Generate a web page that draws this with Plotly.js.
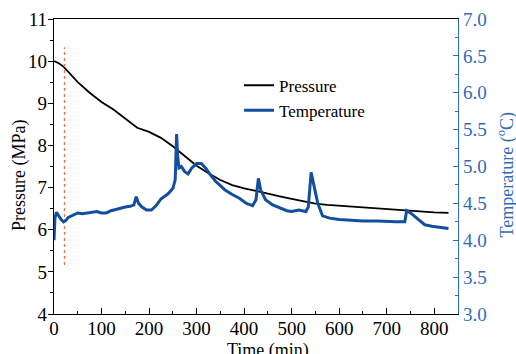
<!DOCTYPE html>
<html>
<head>
<meta charset="utf-8">
<script src="https://cdn.plot.ly/plotly-3.0.1.min.js"></script>
<style>html,body{margin:0;padding:0;background:#fff;}#chart{width:516px;height:354px;}</style>
</head>
<body>
<div id="chart"></div>
<script>
const pressureTime = [0,10,20,30,50,75,100,125,150,175,200,225,250,275,300,325,350,375,400,425,450,475,500,525,550,575,600,650,700,750,800,830];
const pressureMPa  = [10.0,9.95,9.87,9.75,9.5,9.25,9.03,8.85,8.63,8.42,8.32,8.18,7.98,7.74,7.52,7.34,7.18,7.06,6.98,6.92,6.85,6.79,6.73,6.67,6.62,6.59,6.57,6.52,6.48,6.44,6.41,6.40];

const tempTime = [0,2,5,10,15,20,25,30,40,50,60,70,80,90,100,110,120,130,140,150,160,168,173,178,185,195,205,215,225,240,250,255,258,260,263,268,275,282,290,300,310,320,330,340,350,360,375,390,405,418,425,430,435,445,460,475,490,500,515,530,535,541,548,555,565,580,600,620,650,680,700,720,738,742,750,760,770,780,795,810,825,830];
const tempC    = [4.00,4.30,4.38,4.33,4.28,4.25,4.27,4.31,4.34,4.37,4.36,4.37,4.38,4.39,4.37,4.37,4.40,4.42,4.44,4.45,4.46,4.48,4.59,4.50,4.45,4.41,4.41,4.47,4.56,4.63,4.70,4.82,5.44,5.15,4.98,5.00,4.93,4.90,4.98,5.04,5.04,4.97,4.88,4.80,4.74,4.68,4.62,4.57,4.50,4.47,4.55,4.84,4.68,4.55,4.48,4.44,4.40,4.39,4.41,4.39,4.45,4.92,4.70,4.50,4.33,4.30,4.28,4.27,4.26,4.26,4.25,4.25,4.25,4.40,4.37,4.32,4.26,4.21,4.19,4.18,4.16,4.16];

const markerTime = [22,22];
const markerPressure = [5.16,10.33];

const xTitle = 'Time (min)';
const yTitle = 'Pressure (MPa)';
const y2Title = 'Temperature (<sup>o</sup>C)';

const blue = '#124f9e';
const axisBlue = '#2e6cb8';
const fam = 'Liberation Serif';
const tickFont = {family:fam, size:19, color:'#000'};
const titleFont = {family:fam, size:18, color:'#000'};

const traces = [
  {x:pressureTime, y:pressureMPa, name:'Pressure', type:'scatter', mode:'lines',
   line:{color:'#000', width:1.8}, yaxis:'y'},
  {x:tempTime, y:tempC, name:'Temperature', type:'scatter', mode:'lines',
   line:{color:blue, width:3}, yaxis:'y2'},
  {x:markerTime, y:markerPressure, type:'scatter', mode:'lines', showlegend:false,
   line:{color:'#ff6a40', width:1.2, dash:'dot'}, yaxis:'y', hoverinfo:'skip'}
];

const layout = {
  width:516, height:354,
  margin:{l:54, r:58, t:19, b:40},
  paper_bgcolor:'#fff', plot_bgcolor:'#fff',
  font:{family:fam, size:18, color:'#000'},
  showlegend:true,
  legend:{x:0.458, y:0.835, xanchor:'left', yanchor:'top', bgcolor:'rgba(0,0,0,0)',
          font:{family:fam, size:17, color:'#000'}, tracegroupgap:0},
  xaxis:{range:[0,850], dtick:100, tick0:0, showgrid:false, zeroline:false,
         showline:true, linecolor:'#000', linewidth:1.2, mirror:true,
         ticks:'inside', ticklen:6, tickcolor:'#000', ticklabelstandoff:-3,
         minor:{dtick:50, ticks:'inside', ticklen:3, tickcolor:'#000'},
         tickfont:tickFont},
  yaxis:{range:[4,11], dtick:1, showgrid:false, zeroline:false,
         showline:true, linecolor:'#000', linewidth:1.2,
         ticks:'outside', ticklen:5, tickcolor:'#000', ticklabelstandoff:-3,
         minor:{dtick:0.5, ticks:'outside', ticklen:3, tickcolor:'#000'},
         tickfont:tickFont},
  yaxis2:{range:[3,7], dtick:0.5, tickformat:'.1f', overlaying:'y', side:'right',
          showgrid:false, zeroline:false,
          showline:true, linecolor:axisBlue, linewidth:1.2,
          ticks:'inside', ticklen:5, tickcolor:axisBlue,
          minor:{dtick:0.25, ticks:'inside', ticklen:3, tickcolor:axisBlue},
          tickfont:{family:fam, size:19, color:axisBlue}},
  annotations:[
    {text:xTitle, xref:'paper', yref:'paper', x:0.530, y:-0.125, showarrow:false,
     xanchor:'center', yanchor:'middle', font:titleFont},
    {text:yTitle, xref:'paper', yref:'paper', x:-0.087, y:0.471, showarrow:false,
     textangle:-90, xanchor:'center', yanchor:'middle', font:titleFont},
    {text:y2Title, xref:'paper', yref:'paper', x:1.12, y:0.471, showarrow:false,
     textangle:-90, xanchor:'center', yanchor:'middle', font:{family:fam, size:18, color:axisBlue}}
  ]
};

Plotly.newPlot('chart', traces, layout, {displayModeBar:false, staticPlot:true});
</script>
</body>
</html>
